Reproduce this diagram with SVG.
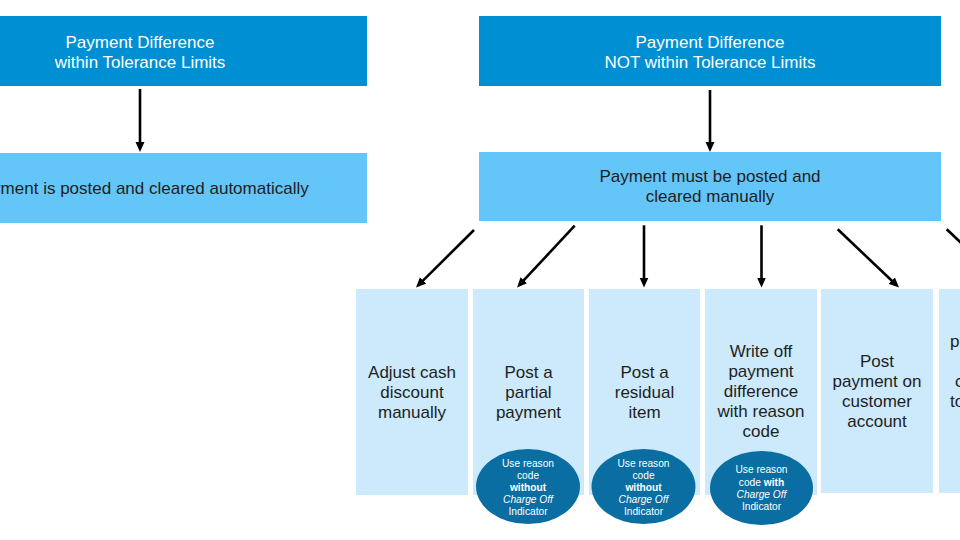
<svg xmlns="http://www.w3.org/2000/svg" width="960" height="540" viewBox="0 0 960 540">
<style>
  .t { font-family: "Liberation Sans", Arial, sans-serif; font-size: 17px; text-anchor: middle; }
  .w { fill: #ffffff; }
  .d { fill: #1e1e1e; }
  .dark { fill: #008fd3; }
  .mid { fill: #64c5f9; }
  .light { fill: #cceafb; }
  .oval { fill: #0a6ea2; }
  .s { font-family: "Liberation Sans", Arial, sans-serif; font-size: 10.2px; text-anchor: middle; fill: #ffffff; }
  .b { font-weight: bold; }
  .i { font-style: italic; }
  .arr { stroke: #000; stroke-width: 2.6; fill: none; marker-end: url(#ah); }
</style>
<defs>
  <marker id="ah" markerUnits="userSpaceOnUse" markerWidth="11" markerHeight="10" refX="2" refY="5" orient="auto">
    <path d="M0,0.5 L10,5 L0,9.5 z" fill="#000"/>
  </marker>
</defs>
<rect width="960" height="540" fill="#ffffff"/>

<g id="within-tolerance">
  <rect class="dark" x="-5" y="16" width="372" height="70"/>
  <text class="t w" x="140" y="47.5">Payment Difference</text>
  <text class="t w" x="140" y="67.5">within Tolerance Limits</text>
</g>
<g id="posted-automatically">
  <rect class="mid" x="-5" y="153" width="372" height="70"/>
  <text class="t d" x="140" y="194.3">Payment is posted and cleared automatically</text>
</g>
<g id="not-within-tolerance">
  <rect class="dark" x="479" y="16" width="462" height="70"/>
  <text class="t w" x="710" y="47.5">Payment Difference</text>
  <text class="t w" x="710" y="67.5">NOT within Tolerance Limits</text>
</g>
<g id="posted-manually">
  <rect class="mid" x="479" y="152" width="462" height="69"/>
  <text class="t d" x="710" y="182.3">Payment must be posted and</text>
  <text class="t d" x="710" y="202">cleared manually</text>
</g>

<g id="adjust-cash-discount">
  <rect class="light" x="356" y="289" width="112" height="206"/>
  <text class="t d" x="412" y="377.5">Adjust cash</text>
  <text class="t d" x="412" y="397.7">discount</text>
  <text class="t d" x="412" y="417.8">manually</text>
</g>
<g id="partial-payment">
  <rect class="light" x="473" y="289" width="111" height="206"/>
  <text class="t d" x="528.5" y="377.5">Post a</text>
  <text class="t d" x="528.5" y="397.7">partial</text>
  <text class="t d" x="528.5" y="417.8">payment</text>
  <ellipse class="oval" cx="528" cy="486.5" rx="52" ry="37.5"/>
  <text class="s" x="528" y="466.7">Use reason</text>
  <text class="s" x="528" y="478.5">code</text>
  <text class="s b" x="528" y="490.7">without</text>
  <text class="s i" x="528" y="503">Charge Off</text>
  <text class="s" x="528" y="515">Indicator</text>
</g>
<g id="residual-item">
  <rect class="light" x="589" y="289" width="111" height="206"/>
  <text class="t d" x="644.5" y="377.5">Post a</text>
  <text class="t d" x="644.5" y="397.7">residual</text>
  <text class="t d" x="644.5" y="417.8">item</text>
  <ellipse class="oval" cx="643.5" cy="486.5" rx="52" ry="37.5"/>
  <text class="s" x="643.5" y="466.7">Use reason</text>
  <text class="s" x="643.5" y="478.5">code</text>
  <text class="s b" x="643.5" y="490.7">without</text>
  <text class="s i" x="643.5" y="503">Charge Off</text>
  <text class="s" x="643.5" y="515">Indicator</text>
</g>
<g id="write-off">
  <rect class="light" x="705" y="289" width="112" height="206"/>
  <text class="t d" x="761" y="356.7">Write off</text>
  <text class="t d" x="761" y="376.7">payment</text>
  <text class="t d" x="761" y="396.7">difference</text>
  <text class="t d" x="761" y="416.7">with reason</text>
  <text class="t d" x="761" y="436.7">code</text>
  <ellipse class="oval" cx="761.5" cy="488" rx="51.5" ry="37"/>
  <text class="s" x="761.5" y="473.3">Use reason</text>
  <text class="s" x="761.5" y="485.7">code <tspan class="b">with</tspan></text>
  <text class="s i" x="761.5" y="498.2">Charge Off</text>
  <text class="s" x="761.5" y="510">Indicator</text>
</g>
<g id="customer-account">
  <rect class="light" x="821" y="289" width="112" height="204"/>
  <text class="t d" x="877" y="367">Post</text>
  <text class="t d" x="877" y="387">payment on</text>
  <text class="t d" x="877" y="407">customer</text>
  <text class="t d" x="877" y="427">account</text>
</g>
<g id="sixth-option">
  <rect class="light" x="939" y="289" width="112" height="204"/>
  <text class="t d" x="950" y="347" style="text-anchor:start">p</text>
  <text class="t d" x="955" y="387" style="text-anchor:start">c</text>
  <text class="t d" x="950" y="407" style="text-anchor:start">to</text>
</g>

<g id="connectors">
  <line class="arr" x1="140" y1="89" x2="140" y2="144"/>
  <line class="arr" x1="710" y1="90" x2="710" y2="144"/>
  <line class="arr" x1="474" y1="230" x2="421.7" y2="281.9"/>
  <line class="arr" x1="574.7" y1="225.7" x2="522.5" y2="281.7"/>
  <line class="arr" x1="644" y1="225.3" x2="644" y2="279.5"/>
  <line class="arr" x1="761.5" y1="225.3" x2="761.5" y2="279.5"/>
  <line class="arr" x1="837.7" y1="229.3" x2="893.2" y2="282"/>
  <line class="arr" x1="946.7" y1="229.3" x2="1002" y2="281.5"/>
</g>
</svg>
